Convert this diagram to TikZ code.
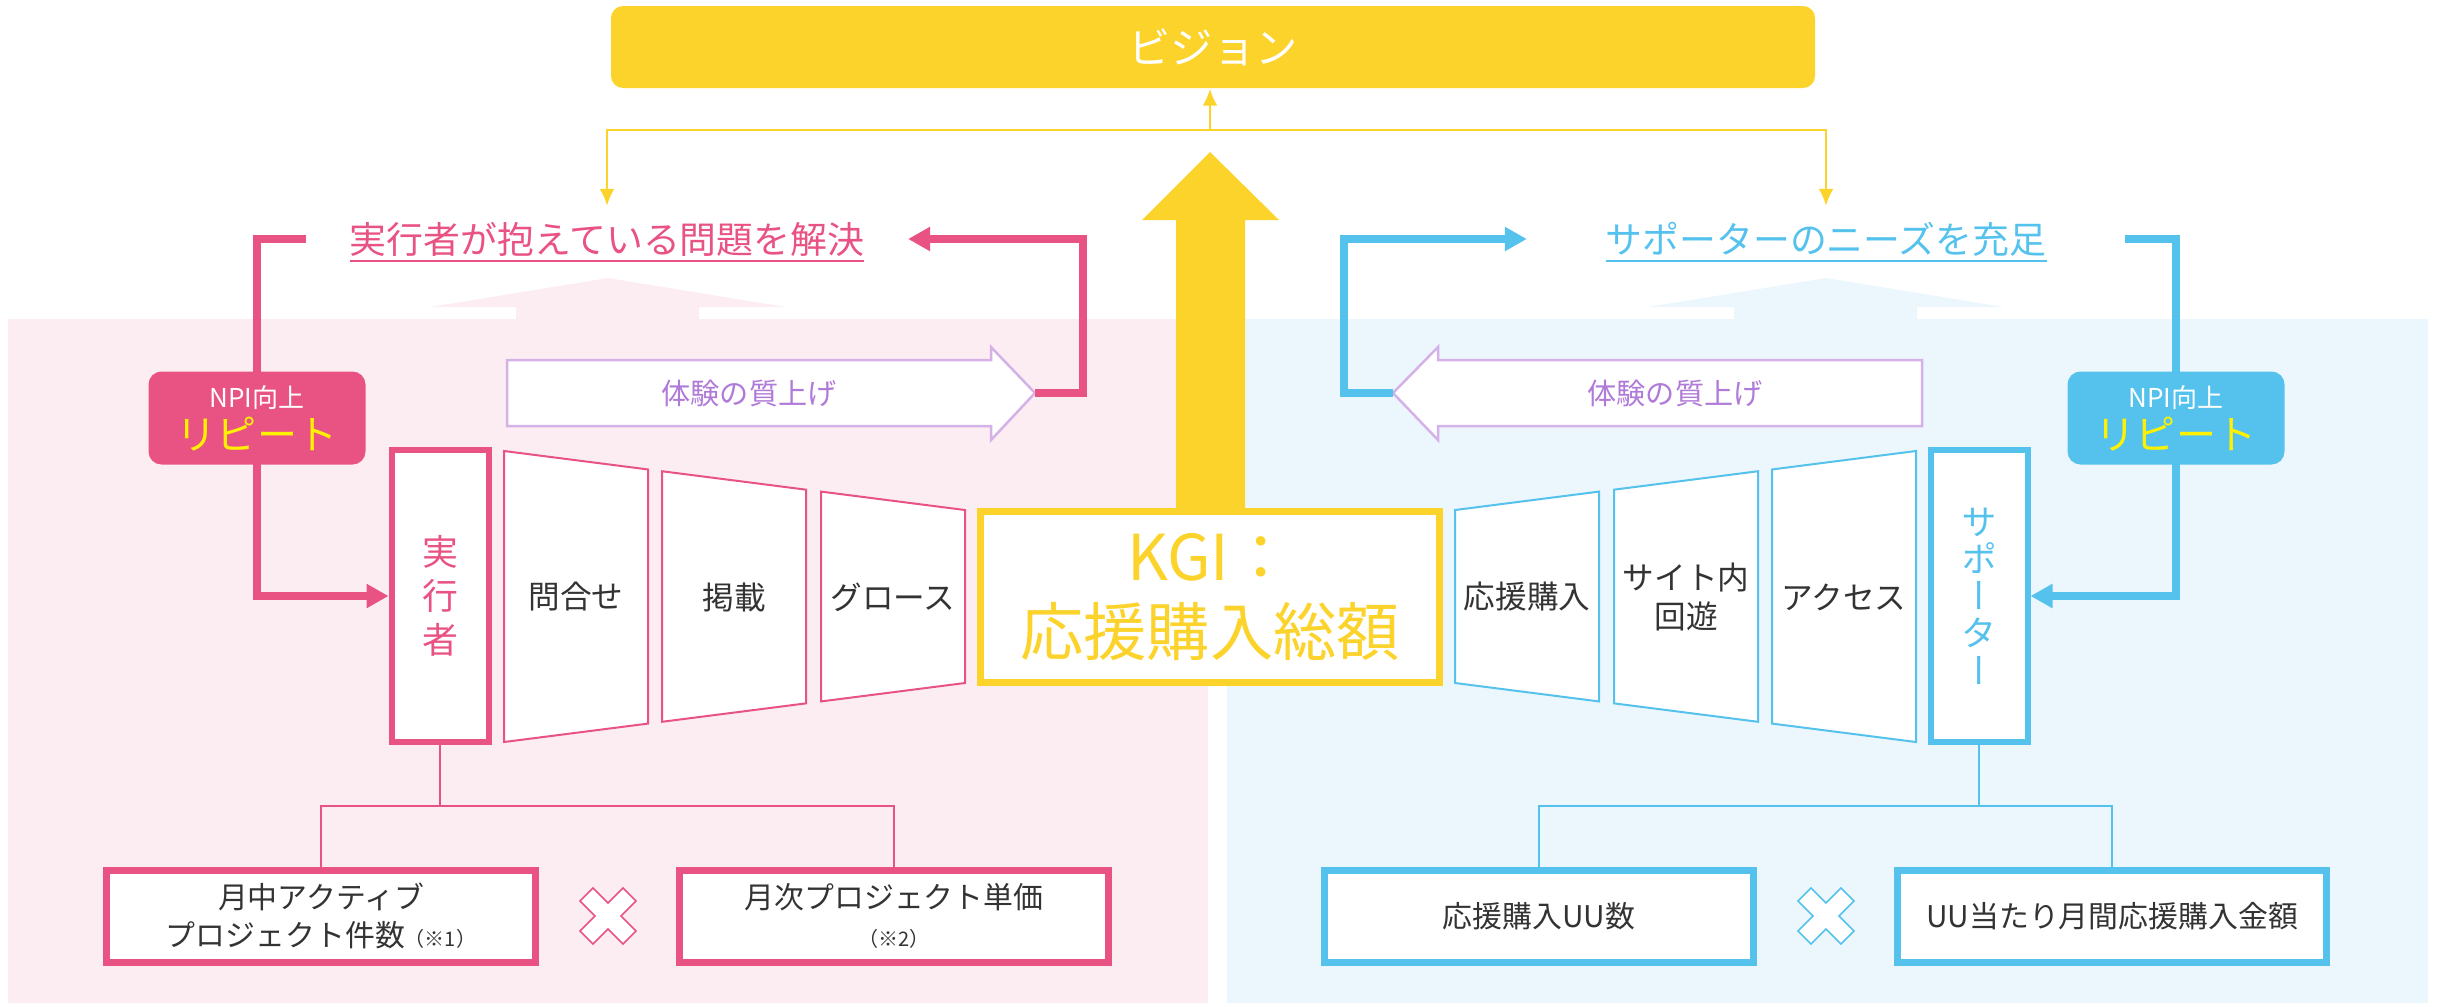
\documentclass[tikz,border=0pt]{standalone}
\usepackage{fontspec}
\setmainfont{Noto Sans CJK JP}
\newfontfamily\vertfont{Noto Sans CJK JP}[RawFeature=+vert]
\usetikzlibrary{arrows.meta}
\definecolor{kpink}{HTML}{E95383}
\definecolor{kblue}{HTML}{55C2EE}
\definecolor{kyellow}{HTML}{FCD32B}
\definecolor{kpinkbg}{HTML}{FCEDF2}
\definecolor{kbluebg}{HTML}{ECF7FD}
\definecolor{kpurple}{HTML}{B07AD8}
\definecolor{kpurpleline}{HTML}{D4B2E8}
\definecolor{ktext}{HTML}{333333}
\definecolor{kbright}{HTML}{FFF100}
\begin{document}
\begin{tikzpicture}[x=0.1mm,y=-0.1mm,
    every node/.style={inner sep=0pt},
    visionbox/.style={fill=kyellow,rounded corners=1.2mm,minimum width=120.4mm,minimum height=8.2mm,text=white,font=\fontsize{12}{14}\selectfont},
    yarrow/.style={draw=kyellow,line width=0.25mm,-{Latex[length=1.7mm,width=1.5mm]}},
    kgibox/.style={draw=kyellow,line width=0.7mm,fill=white,minimum width=45.9mm,minimum height=17.1mm,text=kyellow,align=center,font=\fontsize{18}{21.6}\selectfont},
    kactor/.style={draw=#1,line width=0.6mm,fill=white,minimum width=9.7mm,minimum height=29.2mm,text=#1,align=center},
    ktrap/.style={draw=#1,line width=0.2mm,fill=white},
    traptext/.style={text=ktext,align=center,font=\fontsize{9}{11}\selectfont},
    npibox/.style={fill=#1,rounded corners=1.3mm,minimum width=21.7mm,minimum height=9.3mm,align=center,text=white},
    kgoal/.style={text=#1,font=\fontsize{10.5}{12}\selectfont,text height=3.26mm,text depth=0.44mm},
    thickconn/.style={draw=#1,line width=0.8mm,-{Triangle[length=2.2mm,width=2.3mm]}},
    qarrow/.style={draw=kpurpleline,line width=0.25mm,fill=white},
    qtext/.style={text=kpurple,font=\fontsize{8.3}{10}\selectfont},
    treeline/.style={draw=#1,line width=0.25mm},
    kpibox/.style={draw=#1,line width=0.7mm,fill=white,minimum width=42.9mm,minimum height=9.2mm,align=center,text=ktext,font=\fontsize{8.5}{10.8}\selectfont},
    crossmark/.style={draw=#1,line width=0.15mm,fill=white}]
  \useasboundingbox (0,0) rectangle (2438,1006);

  % panels
  \fill[kpinkbg] (8,319) rectangle (1208,1003);
  \fill[kbluebg] (1227,319) rectangle (2428,1003);
  \fill[kpinkbg] (430,307) -- (608,278) -- (786,307) -- (699,307) -- (699,319) -- (516,319) -- (516,307) -- cycle;
  \fill[kbluebg] (1648,307) -- (1826,278) -- (2004,307) -- (1917,307) -- (1917,319) -- (1734,319) -- (1734,307) -- cycle;

  % vision and goals
  \node[visionbox] (vision) at (1213,47) {ビジョン};
  \node[kgoal=kpink,inner xsep=4.3mm] (ptext) at (607,239) {\underline{実行者が抱えている問題を解決}};
  \node[kgoal=kblue,inner xsep=7.8mm] (btext) at (1826,239) {\underline{サポーターのニーズを充足}};
  \coordinate (yj) at (1210,130);
  \draw[yarrow] (yj) -- (yj |- vision.south);
  \draw[yarrow,shorten >=1.4mm] (yj) -| (ptext.north);
  \draw[yarrow,shorten >=1.4mm] (yj) -| (btext.north);

  % big arrow and KGI
  \fill[kyellow] (1176,520) -- (1176,220) -- (1142,220) -- (1210,152) -- (1279,220) -- (1245,220) -- (1245,520) -- cycle;
  \node[kgibox] (kgi) at (1210,597) {KGI：\\応援購入総額};

  % funnels
  \foreach \xa/\xb/\nm/\lab in {504/648/toiawase/問合せ, 662/806/keisai/掲載, 821/965/gross/グロース} {
    \draw[ktrap=kpink] (\xa,{451+0.128*(\xa-504)}) -- (\xb,{451+0.128*(\xb-504)})
      -- (\xb,{742-0.128*(\xb-504)}) -- (\xa,{742-0.128*(\xa-504)}) -- cycle;
    \node[traptext] (\nm) at ({(\xa+\xb)/2},597) {\lab};
  }
  \foreach \xa/\xb/\nm/\lab in {504/648/access/アクセス, 662/806/kaiyu/{サイト内\\回遊}, 821/965/kounyu/応援購入} {
    \draw[ktrap=kblue] ({2420-\xa},{451+0.128*(\xa-504)}) -- ({2420-\xb},{451+0.128*(\xb-504)})
      -- ({2420-\xb},{742-0.128*(\xb-504)}) -- ({2420-\xa},{742-0.128*(\xa-504)}) -- cycle;
    \node[traptext] (\nm) at ({2420-(\xa+\xb)/2},597) {\lab};
  }
  \node[kactor=kpink,font=\fontsize{10.2}{12.5}\selectfont] (jikko) at (440,596) {実\\行\\者};
  \node[kactor=kblue,font=\fontsize{10.2}{10.6}\vertfont] (supporter) at (1979,596) {サ\\ポ\\ー\\タ\\ー};

  % quality arrows
  \draw[qarrow] (507,360) -- (991,360) -- (991,347) -- (1035,393) -- (991,440) -- (991,426) -- (507,426) -- cycle;
  \draw[qarrow] (1922,360) -- (1438,360) -- (1438,347) -- (1393,393) -- (1438,440) -- (1438,426) -- (1922,426) -- cycle;
  \node[qtext] (pquality) at (749,393) {体験の質上げ};
  \node[qtext] (bquality) at (1675,393) {体験の質上げ};
  \coordinate (ptip) at (1035,393);
  \coordinate (btip) at (1393,393);

  % repeat loops
  \coordinate (prep) at (257,418);
  \coordinate (brep) at (2176,418);
  \draw[thickconn=kpink] (ptip) -- ++(48,0) |- (ptext.east);
  \draw[thickconn=kpink] (ptext.west) -| (prep) |- (jikko.west);
  \draw[thickconn=kblue] (btip) -- ++(-49,0) |- (btext.west);
  \draw[thickconn=kblue] (btext.east) -| (brep) |- (supporter.east);
  \node[npibox=kpink] (pnpi) at (prep) {{\fontsize{7.4}{8}\selectfont NPI向上}\\{\fontsize{11.4}{13.4}\selectfont\color{kbright}リピート}};
  \node[npibox=kblue] (bnpi) at (brep) {{\fontsize{7.4}{8}\selectfont NPI向上}\\{\fontsize{11.4}{13.4}\selectfont\color{kbright}リピート}};

  % KPI trees
  \node[kpibox=kpink] (active) at (321,916) {月中アクティブ\\プロジェクト件数{\fontsize{5.7}{7}\selectfont（※1）}};
  \node[kpibox=kpink] (unitprice) at (894,916) {月次プロジェクト単価\\{\fontsize{5.7}{7.6}\selectfont（※2）}};
  \node[kpibox=kblue] (uucount) at (1539,916) {応援購入UU数};
  \node[kpibox=kblue] (uuamount) at (2112,916) {UU当たり月間応援購入金額};
  \coordinate (pfork) at (440,806);
  \coordinate (bfork) at (1979,806);
  \draw[treeline=kpink] (jikko.south) -- (pfork) (active.north) |- (pfork) -| (unitprice.north);
  \draw[treeline=kblue] (supporter.south) -- (bfork) (uucount.north) |- (bfork) -| (uuamount.north);
  \draw[crossmark=kpink,shift={(608,916)}] (0,-13) -- (15,-28) -- (28,-15) -- (13,0) -- (28,15) -- (15,28)
    -- (0,13) -- (-15,28) -- (-28,15) -- (-13,0) -- (-28,-15) -- (-15,-28) -- cycle;
  \draw[crossmark=kblue,shift={(1826,916)}] (0,-13) -- (15,-28) -- (28,-15) -- (13,0) -- (28,15) -- (15,28)
    -- (0,13) -- (-15,28) -- (-28,15) -- (-13,0) -- (-28,-15) -- (-15,-28) -- cycle;
\end{tikzpicture}
\end{document}
